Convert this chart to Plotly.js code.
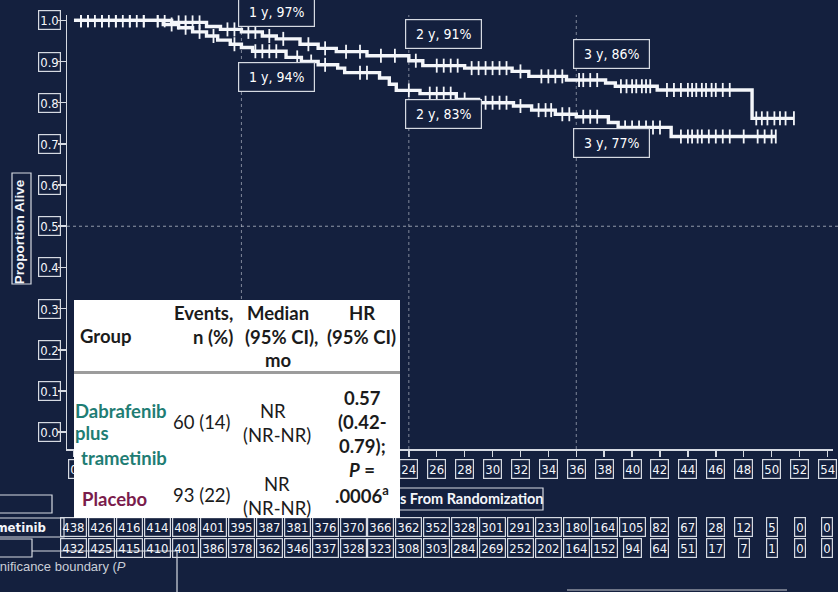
<!DOCTYPE html>
<html><head><meta charset="utf-8">
<script src="https://cdn.plot.ly/plotly-3.0.1.min.js"></script>
<style>html,body{margin:0;padding:0;background:#14203e;}#chart{width:838px;height:592px;}</style>
</head><body><div id="chart"></div>
<script>
// ---------- data ----------
const xTicks = [0,2,4,6,8,10,12,14,16,18,20,22,24,26,28,30,32,34,36,38,40,42,44,46,48,50,52,54];
const xTickLabels = ['0','2','4','6','8','10','12','14','16','18','20','22','24','26','28','30','32','34','36','38','40','42','44','46','48','50','52','54'];
// tick labels not hidden behind the overlaid table in the reference
const xTickVisible = [1,0,0,0,0,0,0,0,0,0,0,0,1,1,1,1,1,1,1,1,1,1,1,1,1,1,1,1];
const yTicks = [0,0.1,0.2,0.3,0.4,0.5,0.6,0.7,0.8,0.9,1.0];
const yTickLabels = ['0.0','0.1','0.2','0.3','0.4','0.5','0.6','0.7','0.8','0.9','1.0'];

const dtTime = [0,7,9.5,10.5,12,13.5,14.5,16.2,17.5,18.8,21,24,25,28,31.4,32.6,35.3,38.1,38.8,41.8,48.6,51.6];
const dtSurv = [1.0,0.995,0.985,0.978,0.972,0.962,0.955,0.942,0.932,0.924,0.914,0.902,0.89,0.884,0.876,0.864,0.855,0.848,0.84,0.831,0.762,0.762];
const plTime = [0,6.4,7.5,8.5,9.5,10.3,11.2,12,12.8,15.2,16.3,17.5,18.9,19.4,21.9,22.6,23.1,24.8,27.4,29,31.5,32.8,34.5,36,38.3,39,42.8,50.3];
const plSurv = [1.0,0.99,0.982,0.972,0.962,0.952,0.942,0.934,0.925,0.91,0.9,0.892,0.884,0.873,0.86,0.845,0.83,0.822,0.808,0.8,0.792,0.782,0.772,0.766,0.752,0.74,0.718,0.718];
const dtCens = [0.5,1,1.5,2,2.5,3,3.5,4,4.5,5,6,6.5,7.5,8,8.5,9,11,11.5,12.5,13,14,15,16.8,18,19.5,20.5,22,23,24.5,26,26.5,27,27.5,28.5,29,29.5,30,30.5,31,32,33.5,34,34.5,35,36.2,36.5,37,37.5,39.2,39.6,40,40.3,40.7,41,41.3,42.5,43,43.5,44,44.3,44.6,45,45.3,45.7,46,46.5,47,48.9,49.3,49.7,50.2,50.6,51,51.6];
const plCens = [0.5,1,2,3,4,5,6,7,8,9,10,11.5,13,13.5,14,14.5,16,17,18,20.5,21,24,25.5,26,26.5,27,28,29.5,30,30.5,31,32,33.3,33.8,34.2,35,35.5,36.5,37,37.5,39.5,40,40.5,41,41.5,42,43.5,44,44.3,44.7,45,45.5,46,46.5,47,48,49,49.5,50,50.3];

const milestoneX = [12,12,24,24,36,36];
const milestoneText = ['1 y, 97%','1 y, 94%','2 y, 91%','2 y, 83%','3 y, 86%','3 y, 77%'];

const riskDT = [438,426,416,414,408,401,395,387,381,376,370,366,362,352,328,301,291,233,180,164,105,82,67,28,12,5,0,0];
const riskPL = [432,425,415,410,401,386,378,362,346,337,328,323,308,303,284,269,252,202,164,152,94,64,51,17,7,1,0,0];

// ---------- helpers ----------
const W=838,H=592,L=67,R=5,T=15,B=143;
const px = x => (x-L)/(W-L-R);
const py = y => (H-B-y)/(H-T-B);
function stepAt(t, times, surv){let v=surv[0];for(let i=0;i<times.length;i++){if(times[i]<=t)v=surv[i];}return v;}

const NAVY='#14203e', WH='#f4f6fa', BOX='#d6dae2';
const narrow = 'Liberation Sans Narrow, DejaVu Sans Condensed, Arial Narrow, sans-serif';
const tbl = 'Lato, Open Sans, sans-serif';

const traces = [
 {x:dtTime,y:dtSurv,mode:'lines',line:{shape:'hv',color:WH,width:3.4},hoverinfo:'skip',showlegend:false},
 {x:plTime,y:plSurv,mode:'lines',line:{shape:'hv',color:WH,width:3.4},hoverinfo:'skip',showlegend:false},
 {x:dtCens,y:dtCens.map(t=>stepAt(t,dtTime,dtSurv)),mode:'markers',marker:{symbol:'line-ns',size:10,line:{color:WH,width:1.8}},hoverinfo:'skip',showlegend:false},
 {x:plCens,y:plCens.map(t=>stepAt(t,plTime,plSurv)),mode:'markers',marker:{symbol:'line-ns',size:10,line:{color:WH,width:1.8}},hoverinfo:'skip',showlegend:false}
];

const shapes = [];
[12,24,36].forEach(v=>shapes.push({type:'line',xref:'x',yref:'paper',x0:v,x1:v,y0:0,y1:1,line:{color:'rgba(200,205,215,0.6)',width:1,dash:'dot'},layer:'below'}));
shapes.push({type:'line',xref:'paper',yref:'y',x0:0,x1:px(838),y0:0.5,y1:0.5,line:{color:'rgba(200,205,215,0.7)',width:1,dash:'dot'},layer:'below'});
// boxes round the axis titles
shapes.push({type:'rect',xref:'paper',yref:'paper',x0:px(12),x1:px(31),y0:py(284),y1:py(173),line:{color:BOX,width:1.2}});
shapes.push({type:'rect',xref:'paper',yref:'paper',x0:px(340),x1:px(543),y0:py(510),y1:py(488),line:{color:BOX,width:1.2}});
// left-side row label boxes and lines
shapes.push({type:'rect',xref:'paper',yref:'paper',x0:px(-3),x1:px(52),y0:py(513),y1:py(495),line:{color:BOX,width:1.2}});
shapes.push({type:'rect',xref:'paper',yref:'paper',x0:px(-3),x1:px(64),y0:py(537),y1:py(518),line:{color:BOX,width:1.2}});
shapes.push({type:'rect',xref:'paper',yref:'paper',x0:px(-3),x1:px(32),y0:py(557),y1:py(539),line:{color:BOX,width:1.2}});
shapes.push({type:'line',xref:'paper',yref:'paper',x0:px(32),x1:px(177),y0:py(551),y1:py(551),line:{color:BOX,width:1.2}});
shapes.push({type:'line',xref:'paper',yref:'paper',x0:px(177),x1:px(177),y0:py(551),y1:py(595),line:{color:BOX,width:1.2}});
shapes.push({type:'line',xref:'paper',yref:'paper',x0:px(567),x1:px(787),y0:py(590),y1:py(590),line:{color:'rgba(170,175,185,0.6)',width:2}});
// table header separator (seen in the gap between the two white table panels)
shapes.push({type:'line',xref:'paper',yref:'paper',x0:px(74),x1:px(400),y0:py(372.5),y1:py(372.5),line:{color:'#9c9c9c',width:3},layer:'above'});

const ann = [];
const tickFont = {family:narrow,size:13,color:WH};
// y tick labels
yTicks.forEach((v,i)=>ann.push({xref:'paper',yref:'y',x:px(49),y:v,text:yTickLabels[i],showarrow:false,
  font:tickFont,bordercolor:BOX,borderwidth:1.2,borderpad:1,height:16,xanchor:'center',yanchor:'middle'}));
// x tick labels
xTicks.forEach((v,i)=>{ if(xTickVisible[i]) ann.push({xref:'x',yref:'paper',x:v,y:py(469),text:xTickLabels[i],showarrow:false,
  font:tickFont,bordercolor:BOX,borderwidth:1.2,borderpad:1,height:16,xanchor:'center',yanchor:'middle'});});
// milestone boxes
const msY = [12,77,34,114,54,143];
milestoneX.forEach((v,i)=>ann.push({xref:'x',yref:'paper',x:v-0.27,y:py(msY[i]),xanchor:'left',yanchor:'middle',text:milestoneText[i],showarrow:false,
  font:{family:narrow,size:14,color:'#ffffff'},bgcolor:NAVY,bordercolor:BOX,borderwidth:1.2,borderpad:0,width:75,height:28}));
// number at risk
riskDT.forEach((v,i)=>ann.push({xref:'x',yref:'paper',x:xTicks[i],y:py(527),xanchor:'center',yanchor:'middle',text:String(v),showarrow:false,
  font:tickFont,bordercolor:BOX,borderwidth:1.2,borderpad:1,height:16}));
riskPL.forEach((v,i)=>ann.push({xref:'x',yref:'paper',x:xTicks[i],y:py(548),xanchor:'center',yanchor:'middle',text:String(v),showarrow:false,
  font:tickFont,bordercolor:BOX,borderwidth:1.2,borderpad:1,height:16}));
ann.push({xref:'paper',yref:'paper',x:px(48),y:py(527),xanchor:'right',yanchor:'middle',text:'<b>Dabrafenib plus trametinib</b>',showarrow:false,
  font:{family:narrow,size:13,color:WH}});
ann.push({xref:'paper',yref:'paper',x:px(128),y:py(566),xanchor:'right',yanchor:'middle',text:'Significance boundary (<i>P</i>',showarrow:false,
  font:{family:'Liberation Sans, Arial, sans-serif',size:13,color:'#c9ced8'}});

// ---------- table overlay ----------
const DK='#1b1b1b', TEAL='#1f7d74', PURP='#7a1c4c', TS=18.5;
// header panel (white) carrying the "Group" cell
ann.push({xref:'paper',yref:'paper',x:px(74),y:py(300),xanchor:'left',yanchor:'top',text:'<b>Group</b>',showarrow:false,
  align:'left',valign:'middle',width:314,height:59,borderpad:6,borderwidth:0,bgcolor:'#ffffff',font:{family:tbl,size:TS,color:DK}});
// body panel (white) carrying the "Placebo" cell
ann.push({xref:'paper',yref:'paper',x:px(74),y:py(374),xanchor:'left',yanchor:'top',text:'<b>Placebo</b>',showarrow:false,
  align:'left',valign:'bottom',width:310,height:128,borderpad:8,borderwidth:0,bgcolor:'#ffffff',font:{family:tbl,size:TS,color:PURP}});
function t(text,x,y,anchor,color){ann.push({xref:'paper',yref:'paper',x:px(x),y:py(y),xanchor:anchor,yanchor:'middle',text:text,showarrow:false,
  borderpad:0,font:{family:tbl,size:TS,color:color||DK}});}
t('<b>Events,</b>',234,313,'right'); t('<b>n (%)</b>',234,337,'right');
t('<b>Median</b>',278,313,'center'); t('<b>(95% CI),</b>',281,337,'center'); t('<b>mo</b>',278,360,'center');
t('<b>HR</b>',362,313,'center'); t('<b>(95% CI)</b>',361,337,'center');
t('<b>Dabrafenib</b>',74,411,'left',TEAL); t('<b>plus</b>',74,433,'left',TEAL); t('<b>trametinib</b>',80,458,'left',TEAL);
t('60 (14)',202,422,'center'); t('NR',273,411,'center'); t('(NR-NR)',277,435,'center');
t('<b>0.57</b>',362,398,'center'); t('<b>(0.42-</b>',362,422,'center'); t('<b>0.79);</b>',362,446,'center');
t('<b><i>P</i> =</b>',362,470,'center'); t('<b>.0006<sup>a</sup></b>',362,494,'center');
t('93 (22)',202,495,'center');
t('NR',277,484,'center'); t('(NR-NR)',277,508,'center');

const layout = {
  width:W,height:H,margin:{l:L,r:R,t:T,b:B,pad:0},
  paper_bgcolor:NAVY,plot_bgcolor:NAVY,showlegend:false,
  xaxis:{range:[-0.5,54.4],showgrid:false,zeroline:false,showline:true,linecolor:BOX,linewidth:1.5,
    ticks:'outside',tickvals:xTicks,ticklen:6,tickcolor:BOX,tickwidth:1.5,showticklabels:false,fixedrange:true,
    title:{text:'<b>Months From Randomization</b>',font:{family:tbl,size:14.5,color:WH},standoff:38}},
  yaxis:{range:[-0.041,1.013],showgrid:false,zeroline:false,showline:true,linecolor:BOX,linewidth:1.5,
    ticks:'outside',tickvals:yTicks,ticklen:8,tickcolor:BOX,tickwidth:1.5,showticklabels:false,fixedrange:true,
    title:{text:'<b>Proportion Alive</b>',font:{family:'Liberation Sans, Arial, sans-serif',size:13.5,color:WH},standoff:30}},
  shapes:shapes,annotations:ann
};
Plotly.newPlot('chart',traces,layout,{displayModeBar:false,staticPlot:true});
</script></body></html>
